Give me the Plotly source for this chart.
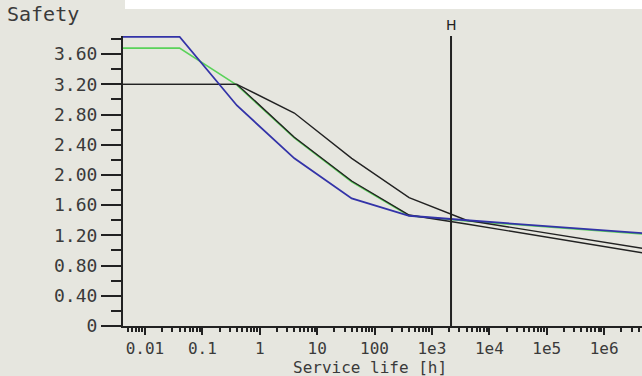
import plotly.graph_objects as go

# ---- data ----
life_h = [0.004, 0.04, 0.4, 4, 40, 400, 4000, 4.6e6]
safety_blue = [3.83, 3.83, 2.92, 2.22, 1.69, 1.46, 1.40, 1.23]
safety_green = [3.68, 3.68, 3.19, 2.49, 1.91, 1.46, 1.39, 1.22]
safety_black_a = [3.20, 3.20, 3.20, 2.82, 2.22, 1.70, 1.40, 1.03]
safety_black_b = [3.20, 3.20, 3.20, 2.50, 1.92, 1.47, 1.35, 0.97]

h_marker = 2150  # service life marked "H"
h_top = 3.84

x_tick_vals = [0.01, 0.1, 1, 10, 100, 1e3, 1e4, 1e5, 1e6]
x_tick_text = ["0.01", "0.1", "1", "10", "100", "1e3", "1e4", "1e5", "1e6"]
y_tick_vals = [0, 0.4, 0.8, 1.2, 1.6, 2.0, 2.4, 2.8, 3.2, 3.6]
y_tick_text = ["0", "0.40", "0.80", "1.20", "1.60", "2.00", "2.40", "2.80", "3.20", "3.60"]
x_minor_vals = [m * 10.0 ** k for k in range(-3, 7) for m in range(2, 10)]

BG = "#e6e6df"
FONT = "DejaVu Sans Mono"
TXT = "#3a3a3a"
PLOT_H = 290  # plot area height in px (t=36, b=50)
PLOT_W = 519

fig = go.Figure()
fig.add_trace(go.Scatter(x=life_h, y=safety_green, mode="lines",
                         line=dict(color="#5ad25a", width=1.6), showlegend=False))
fig.add_trace(go.Scatter(x=life_h, y=safety_black_a, mode="lines",
                         line=dict(color="#222222", width=1.4), showlegend=False))
fig.add_trace(go.Scatter(x=life_h, y=safety_black_b, mode="lines",
                         line=dict(color="#222222", width=1.4), showlegend=False))
fig.add_trace(go.Scatter(x=life_h, y=safety_blue, mode="lines",
                         line=dict(color="#3333a8", width=1.8), showlegend=False))
fig.add_trace(go.Scatter(x=[h_marker, h_marker], y=[0, h_top], mode="lines",
                         line=dict(color="#222222", width=2), showlegend=False))

fig.update_layout(
    width=642, height=376,
    margin=dict(l=123, r=0, t=36, b=50, autoexpand=False),
    paper_bgcolor=BG, plot_bgcolor=BG,
    font=dict(family=FONT, size=18, color=TXT),
    xaxis=dict(
        type="log", range=[-2.383, 6.66], automargin=False,
        tickvals=x_tick_vals, ticktext=x_tick_text,
        ticks="outside", ticklen=7, tickwidth=1.5, tickcolor="#222",
        showline=True, linecolor="#222", linewidth=2,
        showgrid=False, zeroline=False,
        minor=dict(tickvals=x_minor_vals, ticks="outside", ticklen=4,
                   tickwidth=1.5, tickcolor="#222", showgrid=False),
        tickfont=dict(family=FONT, size=16, color=TXT),
    ),
    yaxis=dict(
        range=[0, 3.84], automargin=False,
        tickvals=y_tick_vals, ticktext=y_tick_text,
        ticks="outside", ticklen=20, tickwidth=1.5, tickcolor="#222",
        showline=True, linecolor="#222", linewidth=2,
        showgrid=False, zeroline=False,
        minor=dict(dtick=0.2, tick0=0, ticks="outside", ticklen=10,
                   tickwidth=1.5, tickcolor="#222", showgrid=False),
        tickfont=dict(family=FONT, size=18, color=TXT),
    ),
    shapes=[dict(type="rect", xref="paper", yref="paper",
                 x0=2 / PLOT_W, x1=1.0, y0=1 + 27 / PLOT_H, y1=1 + 40 / PLOT_H,
                 fillcolor="white", line=dict(width=0), layer="below")],
    annotations=[
        dict(text="Safety", xref="paper", yref="paper", x=-118 / PLOT_W, y=1 + 22 / PLOT_H,
             xanchor="left", yanchor="middle", showarrow=False,
             font=dict(family=FONT, size=20, color=TXT)),
        dict(text="H", xref="x", yref="paper", x=3.3324, y=1 + 11 / PLOT_H,
             xanchor="center", yanchor="middle", showarrow=False,
             font=dict(family="DejaVu Sans", size=14, color="#222")),
        dict(text="Service life [h]", xref="paper", yref="paper", x=247 / PLOT_W,
             y=-41 / PLOT_H, xanchor="center", yanchor="middle", showarrow=False,
             font=dict(family=FONT, size=16, color=TXT)),
    ],
)

fig.write_html("out.html", config={"displayModeBar": False},
               post_script="document.body.style.margin='0';document.body.style.overflow='hidden';")
